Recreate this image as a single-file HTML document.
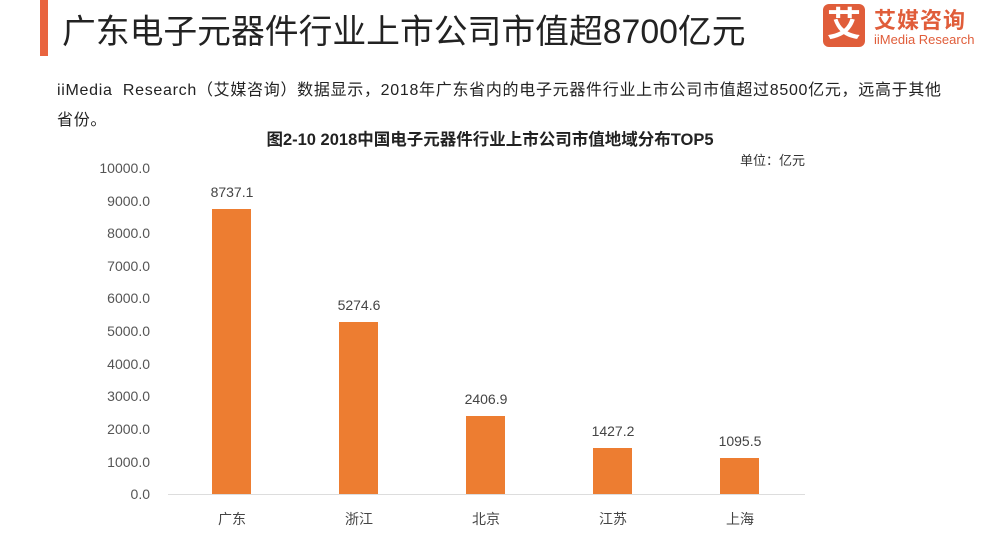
<!DOCTYPE html>
<html><head><meta charset="utf-8"><style>
body{margin:0;width:1000px;height:540px;background:#fff;position:relative;overflow:hidden;font-family:"Liberation Sans","Noto Sans CJK SC",sans-serif;color:#222}
.a{position:absolute;white-space:nowrap}
</style></head><body>
<div class="a" style="left:40px;top:0;width:8px;height:56px;background:#e9643f"></div>
<div class="a" style="left:62px;top:4px;font-size:33.8px;color:#222">广东电子元器件行业上市公司市值超8700亿元</div>
<div class="a" style="left:823px;top:4px;width:42px;height:43px;background:#e05d3a;border-radius:6px;color:#fff;font-size:34px;line-height:43px;text-align:center;font-weight:bold">艾</div>
<div class="a" style="left:874px;top:3px;font-size:22px;color:#e05d3a;font-weight:bold;letter-spacing:1px">艾媒咨询</div>
<div class="a" style="left:874px;top:32px;font-size:13px;color:#e05d3a">iiMedia Research</div>
<div class="a" style="left:57px;top:76px;font-size:16px;color:#222;line-height:30px;width:895px;white-space:normal;letter-spacing:0.7px">iiMedia&nbsp; Research（艾媒咨询）数据显示，2018年广东省内的电子元器件行业上市公司市值超过8500亿元，远高于其他省份。</div>
<div class="a" style="left:0;width:980px;top:126px;text-align:center;font-size:16.5px;font-weight:bold;color:#222">图2-10 2018中国电子元器件行业上市公司市值地域分布TOP5</div>
<div class="a" style="left:740px;top:150px;font-size:13px;color:#333">单位：亿元</div>
<svg class="a" style="left:0;top:0" width="1000" height="540">
<g font-family="Liberation Sans,Noto Sans CJK SC,sans-serif" font-size="14" fill="#555" text-anchor="end">
<text x="150" y="499">0.0</text><text x="150" y="467">1000.0</text><text x="150" y="434">2000.0</text><text x="150" y="401">3000.0</text><text x="150" y="369">4000.0</text><text x="150" y="336">5000.0</text><text x="150" y="303">6000.0</text><text x="150" y="271">7000.0</text><text x="150" y="238">8000.0</text><text x="150" y="206">9000.0</text><text x="150" y="173">10000.0</text>
</g>
<line x1="168" y1="494.5" x2="805" y2="494.5" stroke="#ddd"/>
<g fill="#ed7d31">
<rect x="212" y="209" width="39" height="285"/>
<rect x="339" y="322" width="39" height="172"/>
<rect x="466" y="416" width="39" height="78"/>
<rect x="593" y="448" width="39" height="46"/>
<rect x="720" y="458" width="39" height="36"/>
</g>
<g font-family="Liberation Sans,Noto Sans CJK SC,sans-serif" font-size="14" fill="#444" text-anchor="middle">
<text x="232" y="197">8737.1</text><text x="359" y="310">5274.6</text><text x="486" y="404">2406.9</text><text x="613" y="436">1427.2</text><text x="740" y="446">1095.5</text>
<text x="232" y="524">广东</text><text x="359" y="524">浙江</text><text x="486" y="524">北京</text><text x="613" y="524">江苏</text><text x="740" y="524">上海</text>
</g>
</svg>
</body></html>
